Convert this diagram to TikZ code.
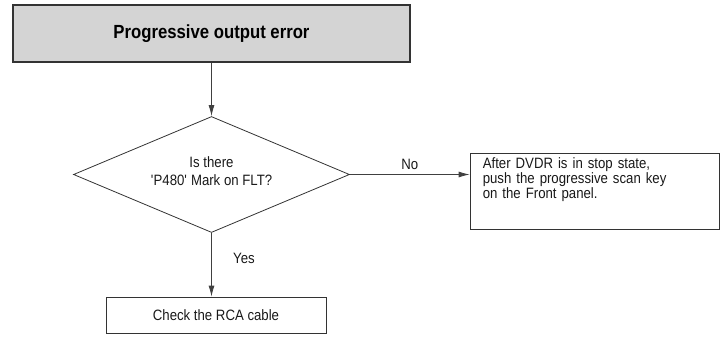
\documentclass[tikz,border=0pt]{standalone}
\usepackage{fontspec}
\setmainfont{Liberation Sans}[FakeStretch=0.88]
\usetikzlibrary{shapes.geometric,arrows.meta}
\begin{document}
\begin{tikzpicture}[x=1pt,y=-1pt,
  box/.style={draw=black!80,line width=0.8pt,inner sep=0pt},
  lbl/.style={font=\fontsize{15}{15}\selectfont,text=black!90},
  conn/.style={draw=black!75,line width=0.8pt,-{Latex[length=11pt,width=6pt]}}]
\useasboundingbox (0,0) rectangle (721,338);
\node[box,fill=black!17,line width=1.6pt,minimum width=397pt,minimum height=57pt,
  font=\fontsize{19}{19}\selectfont\bfseries] (top) at (211.5,33.5) {Progressive output error};
\node[draw=black!80,line width=0.8pt,diamond,aspect=2.38,minimum width=276pt,minimum height=116pt,inner sep=0pt,
  align=center,lbl,font=\fontsize{15}{17.5}\selectfont] (dec) at (211.5,174.5) {Is there\\\textquotesingle P480\textquotesingle\ Mark on FLT?\\[-11pt]};
\node[box,minimum width=249pt,minimum height=76pt] (act) at (594.5,191) {};
\node[anchor=north west,inner sep=0pt,text width=230pt,align=left,lbl,font=\fontsize{15}{15}\selectfont]
  (acttext) at ([xshift=13pt,yshift=-5pt]act.north west) {After DVDR is in stop state,\\push the progressive scan key\\on the Front panel.};
\node[box,minimum width=220pt,minimum height=36pt,lbl] (chk) at (216,315) {Check the RCA cable};
\draw[conn] (top.south -| dec.north) -- (dec.north);
\draw[conn] (dec.east) -- (dec.east -| act.west) node[midway,above,lbl,yshift=1pt] {No};
\draw[conn] (dec.south) -- (dec.south |- chk.north) node[midway,right,lbl,xshift=18pt,yshift=6pt] {Yes};
\end{tikzpicture}
\end{document}
